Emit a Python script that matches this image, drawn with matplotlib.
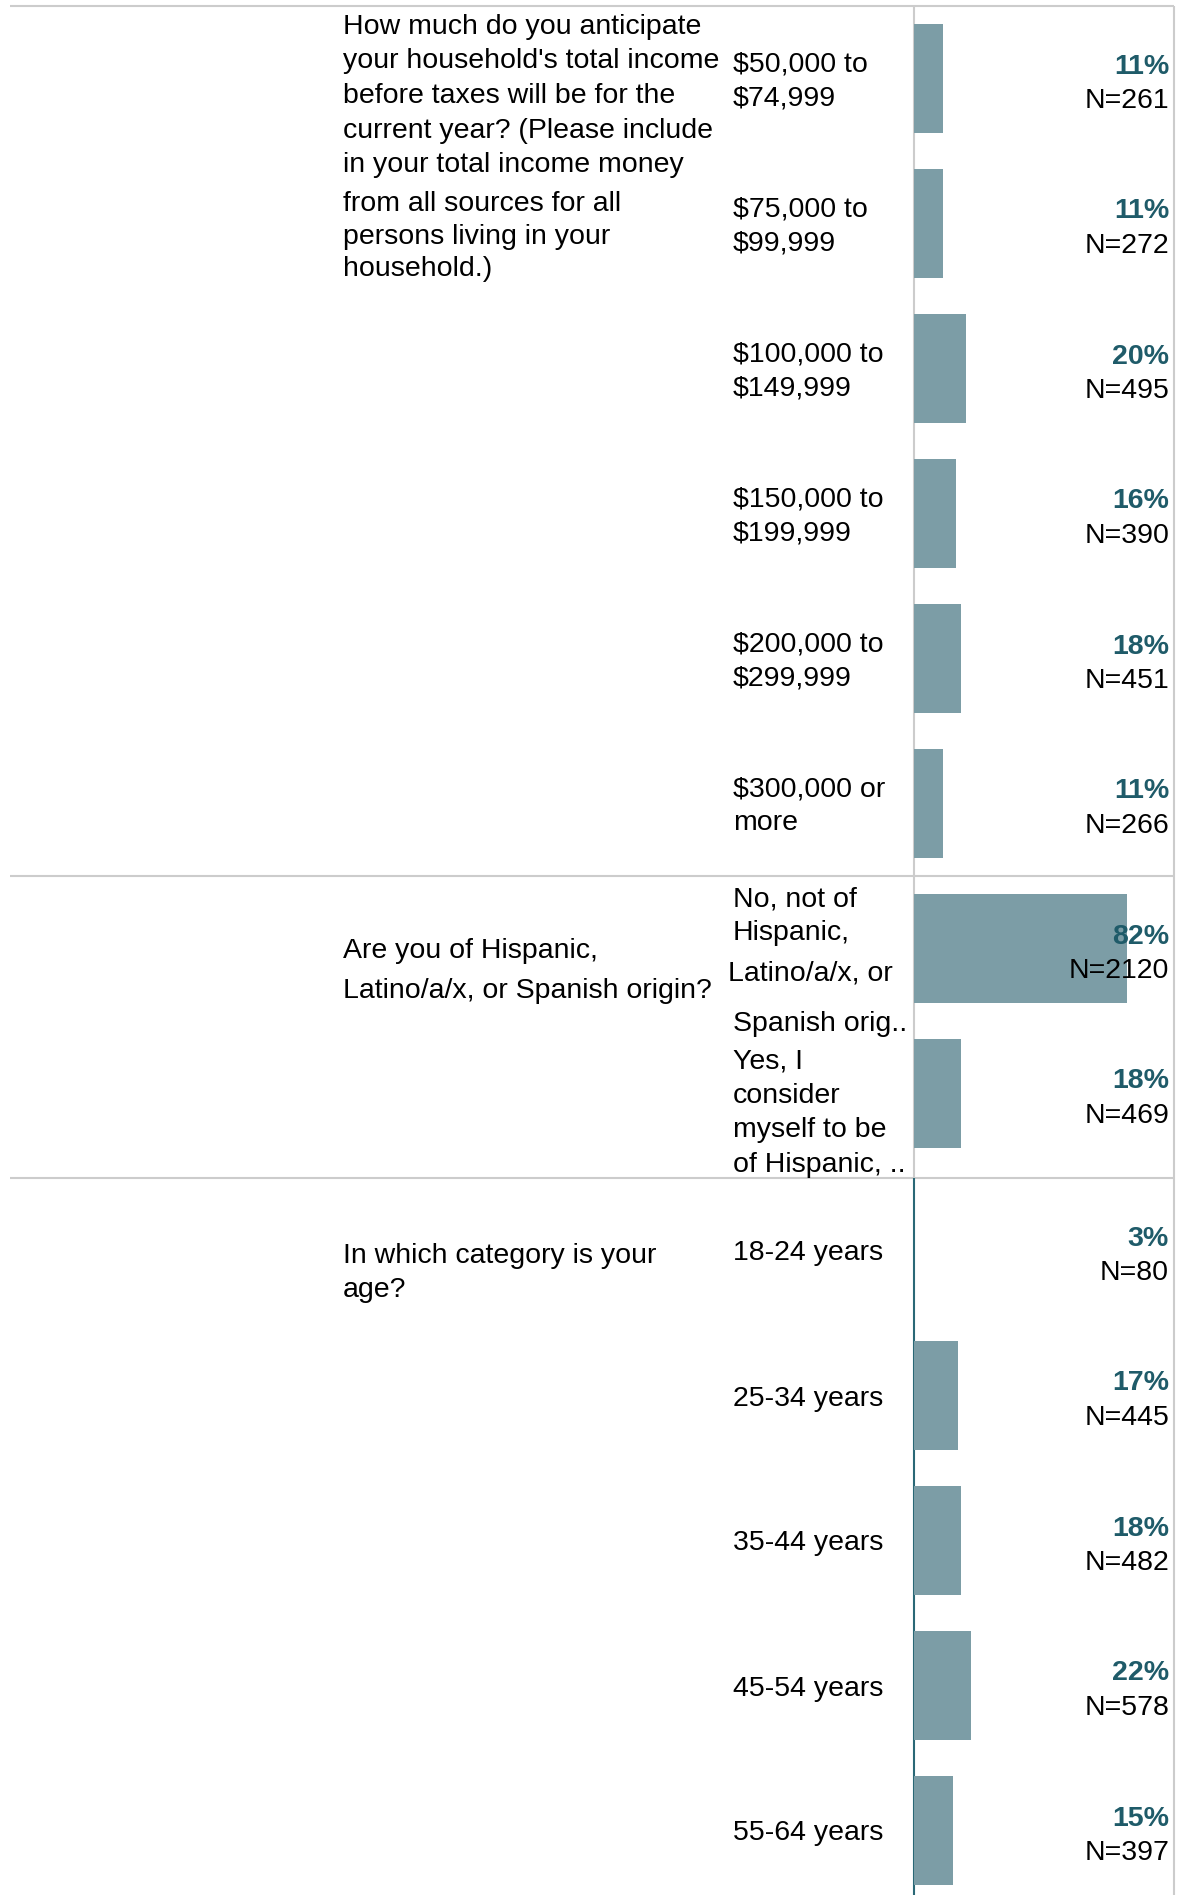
import matplotlib
import matplotlib.pyplot as plt

matplotlib.use('Agg')

# ---- data ----
questions = [
    ["How much do you anticipate", "your household's total income", "before taxes will be for the",
     "current year? (Please include", "in your total income money", "from all sources for all",
     "persons living in your", "household.)"],
    ["Are you of Hispanic,", "Latino/a/x, or Spanish origin?"],
    ["In which category is your", "age?"],
]

income_labels = [["$50,000 to", "$74,999"], ["$75,000 to", "$99,999"], ["$100,000 to", "$149,999"],
                 ["$150,000 to", "$199,999"], ["$200,000 to", "$299,999"], ["$300,000 or", "more"]]
income_pct = [11, 11, 20, 16, 18, 11]
income_n = [261, 272, 495, 390, 451, 266]

hispanic_labels = [["No, not of", "Hispanic,", "Latino/a/x, or", "Spanish orig.."],
                   ["Yes, I", "consider", "myself to be", "of Hispanic, .."]]
hispanic_pct = [82, 18]
hispanic_n = [2120, 469]

age_labels = [["18-24 years"], ["25-34 years"], ["35-44 years"], ["45-54 years"], ["55-64 years"]]
age_pct = [3, 17, 18, 22, 15]
age_n = [80, 445, 482, 578, 397]

sections = [
    (questions[0], income_labels, income_pct, income_n),
    (questions[1], hispanic_labels, hispanic_pct, hispanic_n),
    (questions[2], age_labels, age_pct, age_n),
]

# ---- layout (pixels) ----
W, H = 1184, 1895
TOP = 6
ROW = 145
BAR_H = 109
PAD = 18
EXTRA = [0, 12, 0]
X_LEFT, X_Q, X_CAT, X_AXIS, X_RIGHT = 10, 343, 733, 914, 1174
FS = 20.5
LINE = 34
DY = 3  # matplotlib 'center' sits a bit high compared with the reference

# question text: first line offset from section top, gaps between lines
Q_FIRST = [18, 72.5, 75]
Q_GAPS = [[34.5, 34.5, 34.5, 34.5, 39, 32.5, 32.5], [39.5], [34]]
# wrapped hispanic labels sit unevenly in the reference
LINE_OFFSETS = {(1, 0): [-52.5, -18.5, 22.5, 72.5], (1, 1): [-35.5, -0.5, 33.5, 68.5]}
LINE_DX = {(1, 0): [0, 0, -5, 0]}

BAR_COLOR = '#7C9DA6'
PCT_COLOR = '#1F5B69'
AXIS_TEAL = '#2A6876'
GRID = '#CCCCCC'

plt.rcParams['font.family'] = ['Liberation Sans', 'DejaVu Sans']

fig = plt.figure(figsize=(W / 100, H / 100), dpi=100)
bg = fig.add_axes([0, 0, 1, 1])
bg.set_xlim(0, W)
bg.set_ylim(H, 0)
bg.axis('off')

ax = fig.add_axes([X_AXIS / W, 0, (X_RIGHT - X_AXIS) / W, 1])
ax.set_xlim(0, 1)
ax.set_ylim(H, 0)
ax.axis('off')

y0 = TOP
starts = []
for si, (q, labels, pct, ns) in enumerate(sections):
    starts.append(y0)
    bg.plot([X_LEFT, X_RIGHT], [y0, y0], color=GRID, lw=1.5, solid_capstyle='butt')
    centers = [y0 + PAD + BAR_H / 2 + ROW * i for i in range(len(labels))]

    # question text, one line at a time
    yq = y0 + Q_FIRST[si] + DY
    for li, line in enumerate(q):
        bg.text(X_Q, yq, line, fontsize=FS, va='center', ha='left')
        if li < len(Q_GAPS[si]):
            yq += Q_GAPS[si][li]

    # bars: the 18-24 bar is not drawn in the reference
    colors = [BAR_COLOR] * len(pct)
    if si == 2:
        colors[0] = 'none'
    ax.barh(centers, [p / 100 for p in pct], height=BAR_H, color=colors, left=0)

    for ri, (c, lab, p, n) in enumerate(zip(centers, labels, pct, ns)):
        offs = LINE_OFFSETS.get((si, ri),
                                [(k - (len(lab) - 1) / 2) * LINE for k in range(len(lab))])
        dxs = LINE_DX.get((si, ri), [0] * len(lab))
        for line, off, dx in zip(lab, offs, dxs):
            bg.text(X_CAT + dx, c + off + DY, line, fontsize=FS, va='center', ha='left')
        ax.text(0.981, c - 15 + DY, f"{p}%", fontsize=FS, fontweight='bold', color=PCT_COLOR,
                va='center', ha='right')
        ax.text(0.981, c + 19.5 + DY, f"N={n}", fontsize=FS, color='black', va='center', ha='right')

    y0 = y0 + ROW * len(labels) + EXTRA[si]

# vertical rules
bg.plot([X_AXIS, X_AXIS], [TOP, starts[2]], color=GRID, lw=1.5, solid_capstyle='butt')
bg.plot([X_AXIS, X_AXIS], [starts[2], H], color=AXIS_TEAL, lw=1.5, solid_capstyle='butt')
bg.plot([X_RIGHT, X_RIGHT], [TOP, H], color=GRID, lw=1.5, solid_capstyle='butt')

fig.savefig('out.png', dpi=100)
